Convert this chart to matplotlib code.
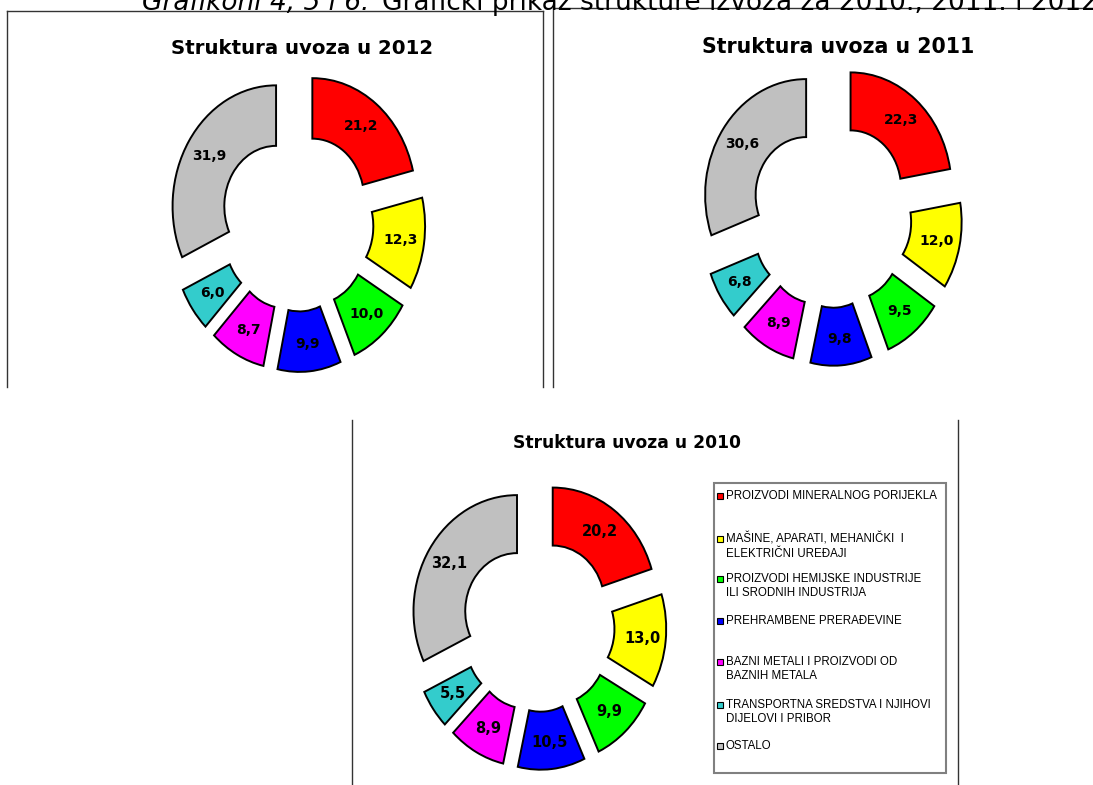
import matplotlib
matplotlib.use("Agg")
import matplotlib.pyplot as plt
from matplotlib.lines import Line2D
from matplotlib.patches import Rectangle

W, H = 1093, 785

categories = [
    "PROIZVODI MINERALNOG PORIJEKLA",
    "MAŠINE, APARATI, MEHANIČKI  I\nELEKTRIČNI UREĐAJI",
    "PROIZVODI HEMIJSKE INDUSTRIJE\nILI SRODNIH INDUSTRIJA",
    "PREHRAMBENE PRERAĐEVINE",
    "BAZNI METALI I PROIZVODI OD\nBAZNIH METALA",
    "TRANSPORTNA SREDSTVA I NJIHOVI\nDIJELOVI I PRIBOR",
    "OSTALO",
]
colors = ["#ff0000", "#ffff00", "#00ff00", "#0000ff", "#ff00ff", "#33cccc", "#c0c0c0"]

uvoz_2012 = [21.2, 12.3, 10.0, 9.9, 8.7, 6.0, 31.9]
uvoz_2011 = [22.3, 12.0, 9.5, 9.8, 8.9, 6.8, 30.6]
uvoz_2010 = [20.2, 13.0, 9.9, 10.5, 8.9, 5.5, 32.1]

caption_a = "Grafikoni 4, 5 i 6:"
caption_b = "Grafički prikaz strukture izvoza za 2010., 2011. i 2012"


def fx(x):
    return x / W


def fy(y):
    return 1 - y / H


def donut(fig, values, cx, cy, rx, ry, expl, title, tx, ty, tsize, lsize):
    ax = fig.add_axes([fx(cx - 1.5 * rx), fy(cy + 1.5 * ry), 3 * rx / W, 3 * ry / H])
    labels = [f"{v:.1f}".replace(".", ",") for v in values]
    ax.pie(values, colors=colors, startangle=90, counterclock=False,
           explode=[expl] * len(values), labels=labels, labeldistance=0.77,
           wedgeprops=dict(width=0.5, edgecolor="black", linewidth=1.4),
           textprops=dict(ha="center", va="center", fontsize=lsize,
                          fontweight="bold", color="black"))
    ax.set_aspect("auto")
    ax.set_xlim(-1.5, 1.5)
    ax.set_ylim(-1.5, 1.5)
    ax.axis("off")
    fig.text(fx(tx), fy(ty), title, ha="center", va="center",
             fontsize=tsize, fontweight="bold")


def vline(fig, x, y0, y1):
    fig.add_artist(Line2D([fx(x), fx(x)], [fy(y0), fy(y1)], color="#333333", lw=1))


def hline(fig, y, x0, x1):
    fig.add_artist(Line2D([fx(x0), fx(x1)], [fy(y), fy(y)], color="#333333", lw=1))


fig = plt.figure(figsize=(W / 100, H / 100), dpi=100)
plt.rcParams["font.family"] = ["DejaVu Sans"]

# caption, cut off at the top edge like in the scan
t1 = fig.text(fx(142), fy(10), caption_a, fontsize=19, style="italic", va="baseline")
r = fig.canvas.get_renderer()
bb = t1.get_window_extent(renderer=r)
fig.text((bb.x1 + 12) / W, fy(10), caption_b, fontsize=19, va="baseline")

# panel frames
hline(fig, 11, 7, 543)
vline(fig, 7, 11, 387)
vline(fig, 543, 11, 387)
hline(fig, 8, 553, 1093)
vline(fig, 553, 8, 387)
vline(fig, 352, 420, 785)
vline(fig, 958, 420, 785)

donut(fig, uvoz_2012, 297, 222, 103.5, 121, 0.24, "Struktura uvoza u 2012", 302, 48, 14.2, 10)
donut(fig, uvoz_2011, 831, 215, 101, 116, 0.3, "Struktura uvoza u 2011", 838, 47, 14.8, 10)
donut(fig, uvoz_2010, 538, 626, 103.5, 116, 0.24, "Struktura uvoza u 2010", 627, 443, 12.3, 10.5)

# legend for the 2010 chart
fig.add_artist(Rectangle((fx(714), fy(773)), (946 - 714) / W, (773 - 483) / H,
                         transform=fig.transFigure, fill=False,
                         edgecolor="#808080", lw=1.5))
rows_y = [496, 539, 579, 621, 662, 705, 746]
for name, col, y in zip(categories, colors, rows_y):
    fig.add_artist(Rectangle((fx(717), fy(y + 3)), 6 / W, 6 / H,
                             transform=fig.transFigure, facecolor=col,
                             edgecolor="black", lw=0.8))
    fig.text(fx(726), fy(y - 6), name, fontsize=8.3, va="top", ha="left",
             family="Liberation Sans", linespacing=1.2)

fig.savefig("out.png", dpi=100)
